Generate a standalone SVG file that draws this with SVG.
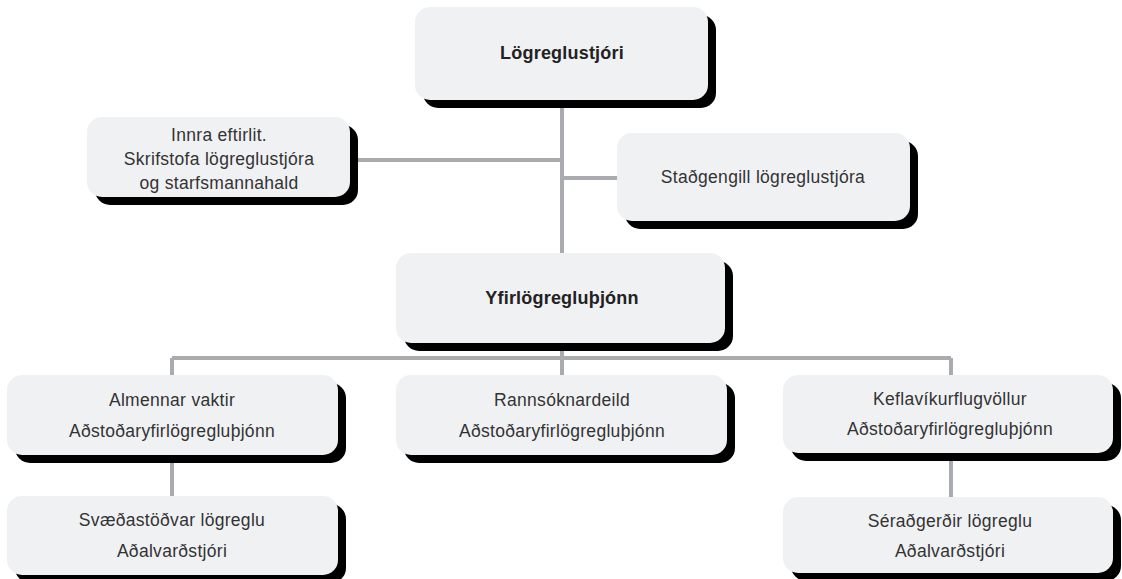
<svg xmlns="http://www.w3.org/2000/svg" width="1122" height="579" viewBox="0 0 1122 579">
<style>
.sh{fill:#000}
.bx{fill:#f0f1f3}
.t{font-family:"Liberation Sans",Arial,sans-serif;font-size:17.5px;letter-spacing:0.3px;fill:#333;text-anchor:middle}
.b{font-weight:bold;font-size:18px;letter-spacing:0.2px;fill:#222}
.ln{stroke:#a9abae;stroke-width:4;fill:none}
</style>
<g id="connectors">
<path class="ln" d="M562 100V253M350 160H562M562 178H617M562 343V358M172 358H951M172 358V375M562 358V375M951 358V375M172 455V496M951 453V497"/>
</g>
<g id="n1"><rect class="sh" x="423" y="15" width="293" height="93" rx="15"/><rect class="bx" x="415" y="7" width="293" height="93" rx="15"/><text class="t b" x="562" y="59">Lögreglustjóri</text></g>
<g id="n2"><rect class="sh" x="95" y="125" width="263" height="80" rx="15"/><rect class="bx" x="87" y="117" width="263" height="80" rx="15"/><text class="t"><tspan x="219" y="141">Innra eftirlit.</tspan><tspan x="219" y="165">Skrifstofa lögreglustjóra</tspan><tspan x="219" y="189">og starfsmannahald</tspan></text></g>
<g id="n3"><rect class="sh" x="625" y="141" width="293" height="88" rx="15"/><rect class="bx" x="617" y="133" width="293" height="88" rx="15"/><text class="t" x="763" y="183">Staðgengill lögreglustjóra</text></g>
<g id="n4"><rect class="sh" x="404" y="261" width="329" height="90" rx="15"/><rect class="bx" x="396" y="253" width="329" height="90" rx="15"/><text class="t b" x="562" y="304">Yfirlögregluþjónn</text></g>
<g id="n5"><rect class="sh" x="15" y="383" width="331" height="80" rx="15"/><rect class="bx" x="7" y="375" width="331" height="80" rx="15"/><text class="t"><tspan x="172" y="406">Almennar vaktir</tspan><tspan x="172" y="437">Aðstoðaryfirlögregluþjónn</tspan></text></g>
<g id="n6"><rect class="sh" x="404" y="383" width="331" height="80" rx="15"/><rect class="bx" x="396" y="375" width="331" height="80" rx="15"/><text class="t"><tspan x="562" y="406">Rannsóknardeild</tspan><tspan x="562" y="437">Aðstoðaryfirlögregluþjónn</tspan></text></g>
<g id="n7"><rect class="sh" x="791" y="383" width="330" height="78" rx="15"/><rect class="bx" x="783" y="375" width="330" height="78" rx="15"/><text class="t"><tspan x="950" y="405">Keflavíkurflugvöllur</tspan><tspan x="950" y="435">Aðstoðaryfirlögregluþjónn</tspan></text></g>
<g id="n8"><rect class="sh" x="15" y="504" width="331" height="79" rx="15"/><rect class="bx" x="7" y="496" width="331" height="79" rx="15"/><text class="t"><tspan x="172" y="526">Svæðastöðvar lögreglu</tspan><tspan x="172" y="557">Aðalvarðstjóri</tspan></text></g>
<g id="n9"><rect class="sh" x="791" y="505" width="330" height="76" rx="15"/><rect class="bx" x="783" y="497" width="330" height="76" rx="15"/><text class="t"><tspan x="950" y="527">Séraðgerðir lögreglu</tspan><tspan x="950" y="557">Aðalvarðstjóri</tspan></text></g>
</svg>
